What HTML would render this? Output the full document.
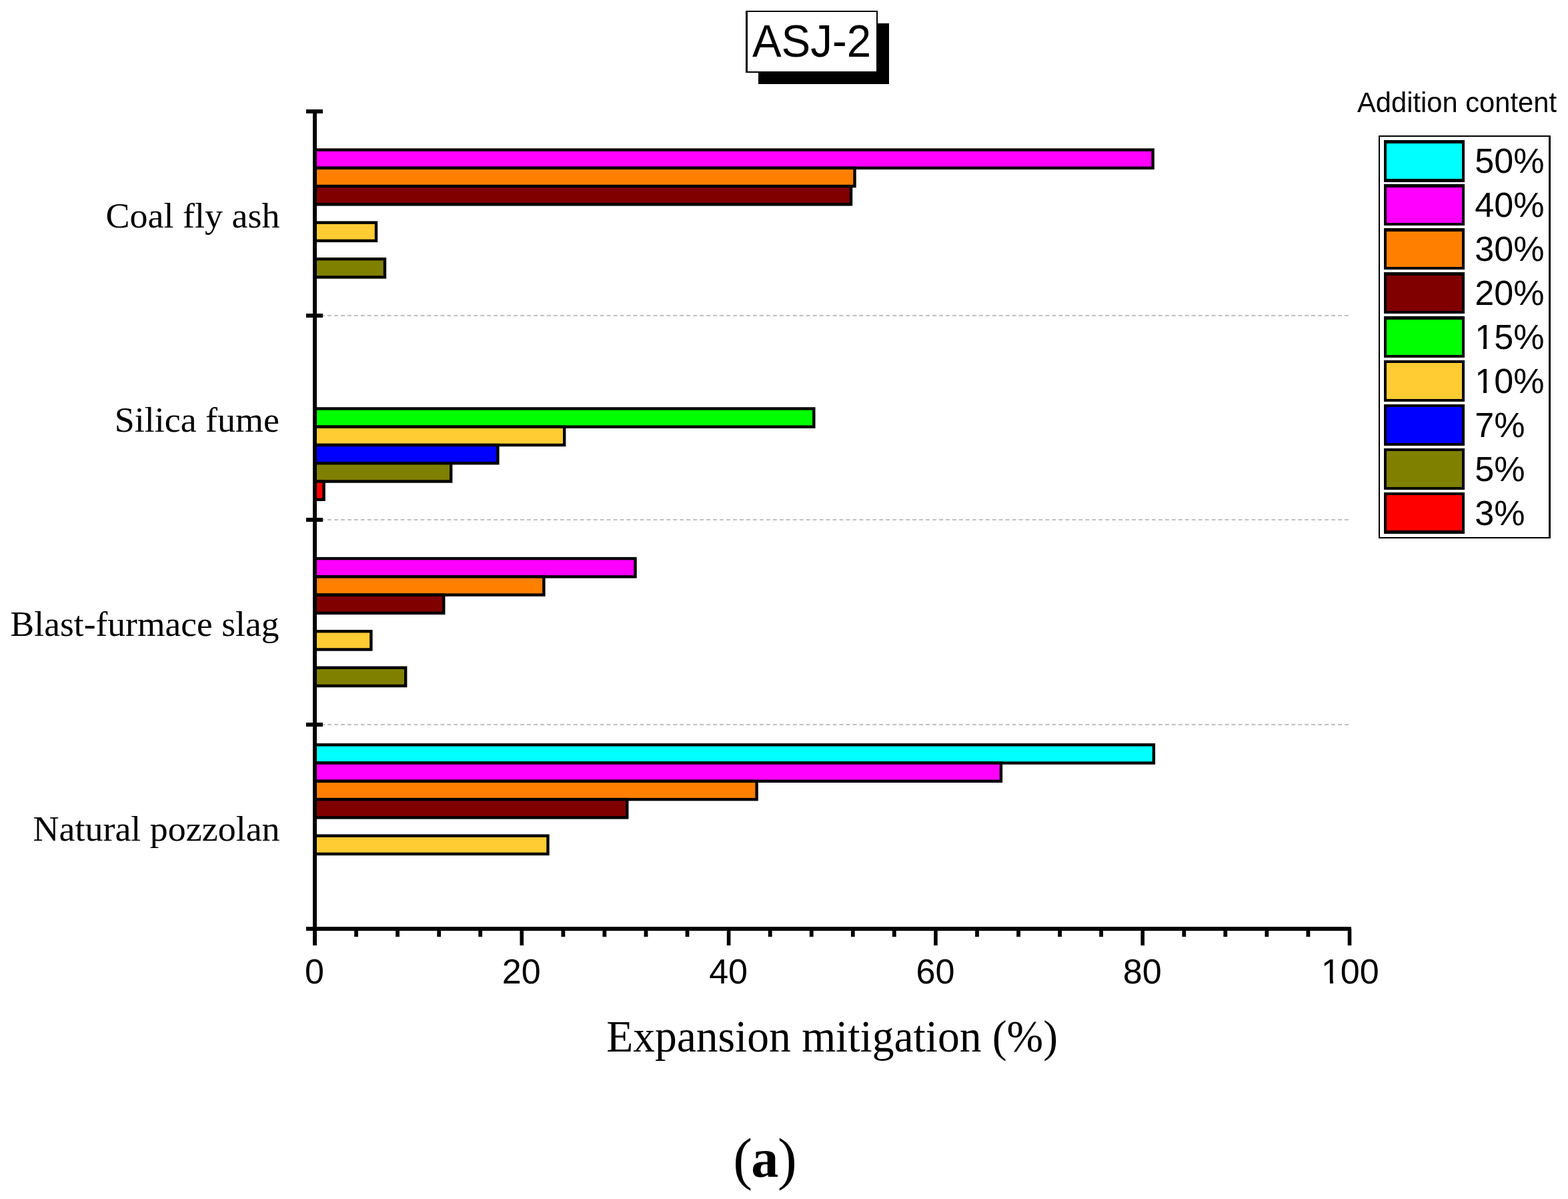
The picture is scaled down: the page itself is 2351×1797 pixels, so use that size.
<!DOCTYPE html>
<html lang="en"><head><meta charset="utf-8"><title>ASJ-2 Expansion mitigation</title>
<style>html,body{margin:0;padding:0;background:#fff}body{width:2351px;height:1797px;overflow:hidden}svg{display:block}.sans{font-family:"Liberation Sans",Arial,Helvetica,sans-serif}.serif{font-family:"Liberation Serif","Times New Roman",Times,serif}text{fill:#000}</style></head><body>
<svg width="2351" height="1797" viewBox="0 0 2351 1797" role="img" aria-label="ASJ-2 expansion mitigation bar chart">
<rect width="2351" height="1797" fill="#fff"/>
<g id="title"><rect x="1137" y="35" width="196" height="91" fill="#000"/><rect x="1118" y="16" width="198" height="93" fill="#000"/><rect x="1121" y="18" width="193" height="89" fill="#fff"/>
<text class="sans" font-size="68" text-anchor="middle" transform="translate(1217.00 84.80) scale(0.9620 1)">ASJ-2</text></g>
<g id="grid" stroke="#c0c0c0" stroke-width="2" stroke-dasharray="6 3.967" fill="none">
<line x1="471.07" y1="473" x2="2022" y2="473"/>
<line x1="471.07" y1="779" x2="2022" y2="779"/>
<line x1="471.07" y1="1086" x2="2022" y2="1086"/>
</g>
<g id="bars" stroke="#000" stroke-width="4.40" stroke-linejoin="miter">
<rect x="472.00" y="224.56" width="1256.60" height="27.27" fill="#ff00ff"/>
<rect x="472.00" y="251.82" width="809.50" height="27.27" fill="#ff8000"/>
<rect x="472.00" y="279.10" width="804.00" height="27.27" fill="#800000"/>
<rect x="472.00" y="333.63" width="92.00" height="27.27" fill="#ffcc33"/>
<rect x="472.00" y="388.17" width="105.00" height="27.27" fill="#808000"/>
<rect x="472.00" y="612.47" width="748.30" height="27.27" fill="#00ff00"/>
<rect x="472.00" y="639.74" width="374.20" height="27.27" fill="#ffcc33"/>
<rect x="472.00" y="667.00" width="274.40" height="27.27" fill="#0000ff"/>
<rect x="472.00" y="694.27" width="204.20" height="27.27" fill="#808000"/>
<rect x="472.00" y="721.54" width="13.60" height="27.27" fill="#ff0000"/>
<rect x="472.00" y="837.10" width="480.50" height="27.27" fill="#ff00ff"/>
<rect x="472.00" y="864.37" width="343.40" height="27.27" fill="#ff8000"/>
<rect x="472.00" y="891.64" width="193.30" height="27.27" fill="#800000"/>
<rect x="472.00" y="946.18" width="84.40" height="27.27" fill="#ffcc33"/>
<rect x="472.00" y="1000.72" width="136.20" height="27.27" fill="#808000"/>
<rect x="472.00" y="1116.29" width="1257.90" height="27.27" fill="#00ffff"/>
<rect x="472.00" y="1143.56" width="1028.90" height="27.27" fill="#ff00ff"/>
<rect x="472.00" y="1170.83" width="662.60" height="27.27" fill="#ff8000"/>
<rect x="472.00" y="1198.10" width="468.30" height="27.27" fill="#800000"/>
<rect x="472.00" y="1252.63" width="349.50" height="27.27" fill="#ffcc33"/>
</g>
<g id="axes" fill="#000">
<rect x="469" y="164" width="6" height="1253"/>
<rect x="459" y="1389" width="1567" height="6"/>
<rect x="459" y="164" width="25" height="6"/>
<rect x="459" y="470" width="25" height="6"/>
<rect x="459" y="776" width="25" height="6"/>
<rect x="459" y="1083" width="25" height="6"/>
<rect x="531.2" y="1392" width="5.8" height="12"/>
<rect x="593.2" y="1392" width="5.8" height="12"/>
<rect x="655.3" y="1392" width="5.8" height="12"/>
<rect x="717.3" y="1392" width="5.8" height="12"/>
<rect x="779.5" y="1392" width="5.6" height="25"/>
<rect x="841.5" y="1392" width="5.8" height="12"/>
<rect x="903.5" y="1392" width="5.8" height="12"/>
<rect x="965.6" y="1392" width="5.8" height="12"/>
<rect x="1027.6" y="1392" width="5.8" height="12"/>
<rect x="1089.8" y="1392" width="5.6" height="25"/>
<rect x="1151.8" y="1392" width="5.8" height="12"/>
<rect x="1213.8" y="1392" width="5.8" height="12"/>
<rect x="1275.9" y="1392" width="5.8" height="12"/>
<rect x="1337.9" y="1392" width="5.8" height="12"/>
<rect x="1400.1" y="1392" width="5.6" height="25"/>
<rect x="1462.1" y="1392" width="5.8" height="12"/>
<rect x="1524.1" y="1392" width="5.8" height="12"/>
<rect x="1586.2" y="1392" width="5.8" height="12"/>
<rect x="1648.2" y="1392" width="5.8" height="12"/>
<rect x="1710.4" y="1392" width="5.6" height="25"/>
<rect x="1772.4" y="1392" width="5.8" height="12"/>
<rect x="1834.4" y="1392" width="5.8" height="12"/>
<rect x="1896.5" y="1392" width="5.8" height="12"/>
<rect x="1958.5" y="1392" width="5.8" height="12"/>
<rect x="2020.7" y="1392" width="5.6" height="25"/>
</g>
<g id="xticks">
<text class="sans" font-size="52.1" text-anchor="middle" transform="translate(471.50 1474.45) scale(1.0000 1)">0</text>
<text class="sans" font-size="52.1" text-anchor="middle" transform="translate(781.80 1474.45) scale(1.0000 1)">20</text>
<text class="sans" font-size="52.1" text-anchor="middle" transform="translate(1092.10 1474.45) scale(1.0000 1)">40</text>
<text class="sans" font-size="52.1" text-anchor="middle" transform="translate(1402.40 1474.45) scale(1.0000 1)">60</text>
<text class="sans" font-size="52.1" text-anchor="middle" transform="translate(1712.70 1474.45) scale(1.0000 1)">80</text>
<text class="sans" font-size="52.1" text-anchor="middle" transform="translate(2024.30 1474.45) scale(1.0000 1)">100</text>
<rect x="1982" y="1469.3" width="12" height="6" fill="#fff"/><rect x="1999" y="1469.3" width="10" height="6" fill="#fff"/>
</g>
<g id="ylabels">
<text class="serif" font-size="53.7" text-anchor="end" transform="translate(419.40 340.90) scale(1.0050 1)">Coal fly ash</text>
<text class="serif" font-size="53.7" text-anchor="end" transform="translate(419.00 647.00) scale(1.0050 1)">Silica fume</text>
<text class="serif" font-size="53.7" text-anchor="end" transform="translate(418.40 953.20) scale(0.9970 1)">Blast-furmace slag</text>
<text class="serif" font-size="53.7" text-anchor="end" transform="translate(419.60 1260.30) scale(1.0050 1)">Natural pozzolan</text>
</g>
<text class="serif" font-size="67" text-anchor="middle" transform="translate(1247.60 1576.10) scale(0.9780 1)" id="xtitle">Expansion mitigation (%)</text>
<text id="caption" class="serif" font-size="86.3"><tspan x="1099.3" y="1766.0">(</tspan><tspan font-size="82" font-weight="bold" x="1126.2" y="1764.2">a</tspan><tspan x="1166.0" y="1766.0">)</tspan></text>
<g id="legend">
<text class="sans" font-size="42" text-anchor="middle" transform="translate(2184.50 168.00) scale(0.9930 1)">Addition content</text>
<rect x="2067" y="203" width="258" height="604" fill="#000"/><rect x="2069" y="205" width="253" height="600" fill="#fff"/>
<rect x="2075" y="210" width="121" height="63" fill="#000"/><rect x="2079" y="215" width="113" height="53" fill="#00ffff"/>
<text class="sans" font-size="52.1" text-anchor="start" transform="translate(2211.20 259.30) scale(1.0000 1)">50%</text>
<rect x="2075" y="276" width="121" height="62" fill="#000"/><rect x="2079" y="281" width="113" height="53" fill="#ff00ff"/>
<text class="sans" font-size="52.1" text-anchor="start" transform="translate(2211.20 325.30) scale(1.0000 1)">40%</text>
<rect x="2075" y="342" width="121" height="62" fill="#000"/><rect x="2079" y="347" width="113" height="53" fill="#ff8000"/>
<text class="sans" font-size="52.1" text-anchor="start" transform="translate(2211.20 391.30) scale(1.0000 1)">30%</text>
<rect x="2075" y="408" width="121" height="62" fill="#000"/><rect x="2079" y="413" width="113" height="53" fill="#800000"/>
<text class="sans" font-size="52.1" text-anchor="start" transform="translate(2211.20 457.30) scale(1.0000 1)">20%</text>
<rect x="2075" y="474" width="121" height="62" fill="#000"/><rect x="2079" y="479" width="113" height="53" fill="#00ff00"/>
<text class="sans" font-size="52.1" text-anchor="start" transform="translate(2211.20 523.30) scale(1.0000 1)">15%</text>
<rect x="2212.5" y="518.9" width="11.5" height="6" fill="#fff"/><rect x="2229" y="518.9" width="10" height="6" fill="#fff"/>
<rect x="2075" y="540" width="121" height="62" fill="#000"/><rect x="2079" y="544" width="113" height="54" fill="#ffcc33"/>
<text class="sans" font-size="52.1" text-anchor="start" transform="translate(2211.20 589.30) scale(1.0000 1)">10%</text>
<rect x="2212.5" y="584.9" width="11.5" height="6" fill="#fff"/><rect x="2229" y="584.9" width="10" height="6" fill="#fff"/>
<rect x="2075" y="606" width="121" height="62" fill="#000"/><rect x="2079" y="610" width="113" height="54" fill="#0000ff"/>
<text class="sans" font-size="52.1" text-anchor="start" transform="translate(2211.20 655.30) scale(1.0000 1)">7%</text>
<rect x="2075" y="672" width="121" height="62" fill="#000"/><rect x="2079" y="676" width="113" height="54" fill="#808000"/>
<text class="sans" font-size="52.1" text-anchor="start" transform="translate(2211.20 721.30) scale(1.0000 1)">5%</text>
<rect x="2075" y="738" width="121" height="62" fill="#000"/><rect x="2079" y="742" width="113" height="53" fill="#ff0000"/>
<text class="sans" font-size="52.1" text-anchor="start" transform="translate(2211.20 787.30) scale(1.0000 1)">3%</text>
</g>
</svg></body></html>
